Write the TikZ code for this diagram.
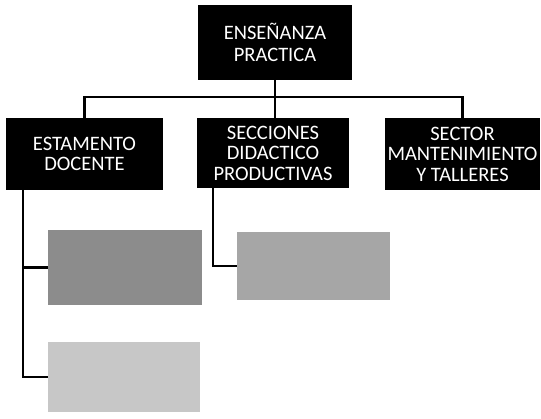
\documentclass[tikz,border=0pt]{standalone}
\usepackage{fontspec}
\setmainfont{Carlito}
\usepackage{tikz}

\begin{document}
\begin{tikzpicture}[x=1pt,y=-1pt]
\tikzstyle{every node}+=[inner sep=0pt]
\tikzstyle{unit}=[fill=black,text=white,align=center,font=\fontsize{20.5}{20.5}\selectfont]
\tikzstyle{blot}=[draw=none]
\tikzstyle{wire}=[line width=2.6pt]
\useasboundingbox (0,0) rectangle (541,419);
% direccion
\node [unit,minimum width=154pt,minimum height=75pt,font=\fontsize{20.5}{22}\selectfont] (prac) at (275,42.5) {ENSEÑANZA\\PRACTICA};
% tres sectores
\node [unit,minimum width=157pt,minimum height=72pt] (doc) at (84.5,154) {ESTAMENTO\\DOCENTE};
\node [unit,minimum width=152pt,minimum height=70pt] (secc) at (273,153) {SECCIONES\\DIDACTICO\\PRODUCTIVAS};
\node [unit,minimum width=155pt,minimum height=72pt] (mant) at (462.5,154) {SECTOR\\MANTENIMIENTO\\Y TALLERES};
% cuadros grises
\node [blot,fill=black!45,minimum width=154pt,minimum height=75pt] (docA) at (125,267.5) {};
\node [blot,fill=black!22,minimum width=152pt,minimum height=70pt] (docB) at (124,377) {};
\node [blot,fill=black!35,minimum width=153pt,minimum height=68pt] (seccA) at (313.5,266) {};
% lineas
\coordinate (bus) at (275,97);
\draw [wire] (prac) -- (bus);
\draw [wire] (doc.north) |- (bus) -| (mant.north);
\draw [wire] (bus) -- (bus |- secc.north);
\draw [wire] ([xshift=-61.5pt]doc.south) |- (docB.west);
\draw [wire] ([xshift=-61.5pt]doc.south |- docA.west) -- (docA.west);
\draw [wire] ([xshift=-60pt]secc.south) |- (seccA.west);
\end{tikzpicture}
\end{document}
